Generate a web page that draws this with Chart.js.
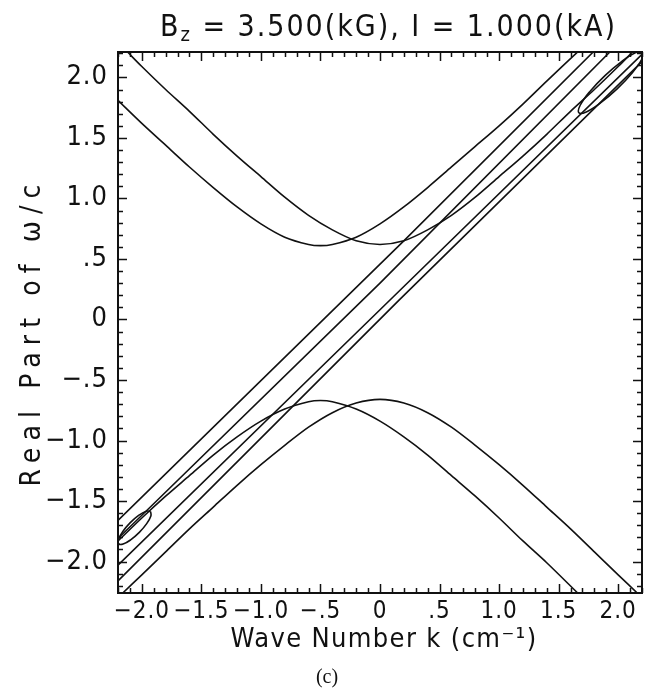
<!DOCTYPE html>
<html><head><meta charset="utf-8">
<script src="https://cdn.jsdelivr.net/npm/chart.js@4.4.1/dist/chart.umd.min.js"></script>
<style>html,body{margin:0;padding:0;background:#fff;}#wrap{width:645px;height:690px;}</style>
</head><body><div id="wrap"><canvas id="c" width="645" height="690"></canvas></div>
<script>
// ---- text ----
const TITLE_MAIN = 'B';
const TITLE_SUB = 'z';
const TITLE_REST = ' = 3.500(kG), I = 1.000(kA)';
const X_TITLE = 'Wave Number k (cm⁻¹)';
const Y_TITLE = 'Real Part of ω/c';
const CAPTION = '(c)';

// ---- ticks ----
const X_TICKS = [-2, -1.5, -1, -0.5, 0, 0.5, 1, 1.5, 2];
const X_TICK_LABELS = ['−2.0', '−1.5', '−1.0', '−.5', '0', '.5', '1.0', '1.5', '2.0'];
const Y_TICKS = [-2, -1.5, -1, -0.5, 0, 0.5, 1, 1.5, 2];
const Y_TICK_LABELS = ['−2.0', '−1.5', '−1.0', '−.5', '0', '.5', '1.0', '1.5', '2.0'];

// ---- curves (k, Re ω/c) ----
const K_U1 = [-2.12,-2.0,-1.8,-1.6,-1.4,-1.2,-1.0,-0.8,-0.6,-0.4,-0.2,0,0.2,0.4,0.6,0.8,1.0,1.2,1.4,1.6,1.8,2.0,2.12];
const W_U1 = [2.21,2.09,1.90,1.72,1.53,1.35,1.18,1.01,0.86,0.74,0.65,0.62,0.65,0.74,0.86,1.01,1.18,1.35,1.53,1.72,1.90,2.09,2.21];

const K_U2 = [-2.2,-2.0,-1.8,-1.6,-1.4,-1.2,-1.0,-0.8,-0.6,-0.5,-0.4,-0.2,0,0.2,0.4,0.6,0.8,1.0,1.2,1.4,1.67];
const W_U2 = [1.81,1.62,1.44,1.26,1.09,0.93,0.79,0.68,0.62,0.61,0.62,0.68,0.79,0.93,1.09,1.26,1.43,1.60,1.78,1.97,2.22];

const K_L1 = [-2.16,-2.0,-1.8,-1.6,-1.4,-1.2,-1.0,-0.8,-0.6,-0.4,-0.2,0,0.2,0.4,0.6,0.8,1.0,1.2,1.4,1.6,1.8,2.0,2.16];
const W_L1 = [-2.26,-2.11,-1.92,-1.73,-1.55,-1.37,-1.20,-1.04,-0.89,-0.77,-0.69,-0.66,-0.69,-0.77,-0.89,-1.04,-1.20,-1.37,-1.55,-1.73,-1.92,-2.11,-2.26];

const K_L2 = [-2.2,-2.0,-1.8,-1.6,-1.4,-1.2,-1.0,-0.8,-0.6,-0.5,-0.4,-0.2,0,0.2,0.4,0.6,0.8,1.0,1.2,1.4,1.66];
const W_L2 = [-1.83,-1.64,-1.46,-1.29,-1.12,-0.97,-0.84,-0.74,-0.68,-0.67,-0.68,-0.74,-0.84,-0.97,-1.12,-1.29,-1.46,-1.64,-1.83,-2.01,-2.26];

const K_B1 = [-2.2, 0.2, 1.79];  const W_B1 = [-1.66, 0.65, 2.21];
const K_B2 = [-2.2, 0.0, 1.93];  const W_B2 = [-1.81, 0.30, 2.21];
const K_B3 = [-2.2, 0.0, 2.2];   const W_B3 = [-2.03, 0.08, 2.19];
const K_B4 = [-2.2, 0.16, 2.2];  const W_B4 = [-2.16, 0.16, 2.13];

const K_E1 = [-1.926,-1.963,-2.027,-2.099,-2.161,-2.196,-2.194,-2.157,-2.094,-2.021,-1.959,-1.924,-1.926];
const W_E1 = [-1.586,-1.584,-1.619,-1.681,-1.754,-1.817,-1.854,-1.856,-1.821,-1.759,-1.687,-1.623,-1.586];

const K_E2 = [2.210,2.148,2.031,1.889,1.761,1.681,1.670,1.732,1.849,1.991,2.119,2.199,2.210];
const W_E2 = [2.212,2.205,2.133,2.015,1.882,1.770,1.708,1.715,1.787,1.905,2.038,2.151,2.212];

const CURVES = [
  [K_U1, W_U1, 0.3], [K_U2, W_U2, 0.3], [K_L1, W_L1, 0.3], [K_L2, W_L2, 0.3],
  [K_B1, W_B1, 0], [K_B2, W_B2, 0], [K_B3, W_B3, 0], [K_B4, W_B4, 0],
  [K_E1, W_E1, 0.4], [K_E2, W_E2, 0.4]
];

const FONT = "'DejaVu Sans Condensed', 'Liberation Sans Narrow', 'Liberation Sans', sans-serif";
const INK = '#111';

const datasets = CURVES.map(([ks, ws, t]) => ({
  data: ks.map((k, i) => ({ x: k, y: ws[i] })),
  showLine: true, borderColor: INK, borderWidth: 1.6, pointRadius: 0,
  fill: false, tension: t
}));

// draw a string so that it spans a given width (letter spacing fitted)
function fitText(ctx, str, size, width) {
  ctx.font = size + 'px ' + FONT;
  ctx.letterSpacing = '0px';
  const w = ctx.measureText(str).width;
  const ls = Math.max(0, (width - w) / str.length);
  ctx.letterSpacing = ls + 'px';
  return w + ls * str.length;
}

const framePlugin = {
  id: 'frame',
  beforeDraw(chart) { chart.ctx.letterSpacing = '1px'; },
  afterDraw(chart) {
    const ctx = chart.ctx, a = chart.chartArea;
    const xs = chart.scales.x, ys = chart.scales.y;
    ctx.save();
    ctx.letterSpacing = '0px';
    ctx.strokeStyle = INK;
    ctx.lineWidth = 1.5;
    for (let i = -22; i <= 22; i++) {
      const v = i / 10, len = (i % 5 === 0) ? 9 : 5;
      if (v >= xs.min && v <= xs.max) {
        const px = Math.round(xs.getPixelForValue(v)) + 0.5;
        ctx.beginPath();
        ctx.moveTo(px, a.bottom); ctx.lineTo(px, a.bottom - len);
        ctx.moveTo(px, a.top); ctx.lineTo(px, a.top + len);
        ctx.stroke();
      }
      if (v >= ys.min && v <= ys.max) {
        const py = Math.round(ys.getPixelForValue(v)) + 0.5;
        ctx.beginPath();
        ctx.moveTo(a.left, py); ctx.lineTo(a.left + len, py);
        ctx.moveTo(a.right, py); ctx.lineTo(a.right - len, py);
        ctx.stroke();
      }
    }
    ctx.lineWidth = 2;
    ctx.strokeRect(a.left, a.top, a.right - a.left, a.bottom - a.top);

    ctx.fillStyle = INK;
    // title with subscript
    ctx.textBaseline = 'alphabetic';
    ctx.textAlign = 'left';
    ctx.font = '30px ' + FONT; ctx.letterSpacing = '0px';
    const wB = ctx.measureText(TITLE_MAIN).width, wR = ctx.measureText(TITLE_REST).width;
    ctx.font = '20px ' + FONT;
    const wZ = ctx.measureText(TITLE_SUB).width;
    const n = TITLE_MAIN.length + TITLE_SUB.length + TITLE_REST.length;
    const ls = Math.max(0, (457 - wB - wR - wZ) / n);
    ctx.letterSpacing = ls + 'px';
    let x = 160;
    const base = 36;
    ctx.font = '30px ' + FONT;
    ctx.fillText(TITLE_MAIN, x, base);
    x += wB + ls;
    ctx.font = '20px ' + FONT;
    ctx.fillText(TITLE_SUB, x, base + 5);
    x += wZ + ls;
    ctx.font = '30px ' + FONT;
    ctx.fillText(TITLE_REST, x, base);

    // x axis title
    const wx = fitText(ctx, X_TITLE, 27, 307);
    ctx.fillText(X_TITLE, 384 - wx / 2, 647);

    // y axis title (rotated)
    ctx.save();
    ctx.translate(40, 332);
    ctx.rotate(-Math.PI / 2);
    const wy = fitText(ctx, Y_TITLE, 28, 309);
    ctx.fillText(Y_TITLE, -wy / 2, 0);
    ctx.restore();

    // caption
    ctx.letterSpacing = '0px';
    ctx.textAlign = 'center';
    ctx.font = "20px 'Liberation Serif', 'Times New Roman', serif";
    ctx.fillText(CAPTION, 327, 683);
    ctx.restore();
  }
};

new Chart(document.getElementById('c'), {
  type: 'scatter',
  data: { datasets },
  options: {
    responsive: false, animation: false, devicePixelRatio: 1,
    layout: { padding: { top: 52, right: 3, left: 0, bottom: 0 } },
    plugins: { legend: { display: false }, tooltip: { enabled: false }, title: { display: false } },
    scales: {
      x: {
        type: 'linear', min: -2.2, max: 2.2,
        grid: { display: false, drawTicks: false }, border: { display: false },
        afterBuildTicks: s => { s.ticks = X_TICKS.map(v => ({ value: v })); },
        afterFit: s => { s.height = 97; },
        ticks: { padding: 4, color: INK, font: { family: FONT, size: 24 }, maxRotation: 0, autoSkip: false,
                 callback: (v, i) => X_TICK_LABELS[i] },
        title: { display: false }
      },
      y: {
        type: 'linear', min: -2.26, max: 2.21,
        grid: { display: false, drawTicks: false }, border: { display: false },
        afterBuildTicks: s => { s.ticks = Y_TICKS.map(v => ({ value: v })); },
        afterFit: s => { s.width = 118; },
        ticks: { padding: 10, color: INK, font: { family: FONT, size: 27 }, autoSkip: false,
                 callback: (v, i) => Y_TICK_LABELS[i] },
        title: { display: false }
      }
    }
  },
  plugins: [framePlugin]
});
</script></body></html>
